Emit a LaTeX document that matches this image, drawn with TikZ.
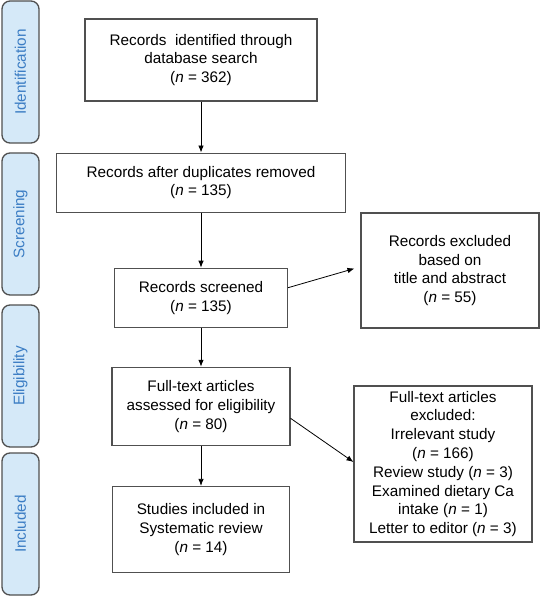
\documentclass[tikz,border=0pt]{standalone}
\usepackage{fontspec}
\setmainfont{Liberation Sans}
\usetikzlibrary{arrows.meta,positioning}
\definecolor{phasefill}{HTML}{D5E9F8}
\definecolor{phasetext}{HTML}{3B7DC4}
\definecolor{boxline}{HTML}{505050}

\begin{document}
\begin{tikzpicture}[
	x = 1pt, y = -1pt,
	every node/.style = {font = \fontsize{15.3}{18.8}\selectfont, align = center, inner sep = 0pt},
	box/.style = {draw = boxline, line width = 1.1pt},
	phase/.style = {draw = boxline, line width = 1.3pt, fill = phasefill, text = phasetext, rounded corners = 8pt, rotate = 90, minimum width = 142pt, minimum height = 37pt},
	arr/.style = {-{Latex[length = 7pt, width = 5.5pt]}, thick}
	]
	\useasboundingbox (0, 0) rectangle (540, 596);
	
	% phases on the left (rotated, so placed at coordinates)
	\node[phase] (phId) at (20.5, 72) {Identification};
	\node[phase] (phScr) at (20.5, 224) {Screening};
	\node[phase] (phElig) at (20.5, 376) {Eligibility};
	\node[phase] (phIncl) at (20.5, 524) {Included};
	
	% main column
	\node[box, minimum width = 232pt, minimum height = 82pt] (ident) at (201, 60) {Records\ \ identified through\\database search\\(\textit{n} = 362)};
	\node[box, minimum width = 289pt, minimum height = 59pt, below = 51pt of ident] (dedup) {Records after duplicates removed\\(\textit{n} = 135)};
	\node[box, minimum width = 173pt, minimum height = 59pt, below = 55pt of dedup] (screen) {Records screened\\(\textit{n} = 135)};
	\node[box, minimum width = 178pt, minimum height = 78pt, below = 39pt of screen] (full) {Full-text articles\\assessed for eligibility\\(\textit{n} = 80)};
	\node[box, minimum width = 177pt, minimum height = 86pt, below = 40pt of full] (incl) {Studies included in\\Systematic review\\(\textit{n} = 14)};
	
	% exclusions
	\node[box, minimum width = 178pt, minimum height = 115pt] (excl1) at (450, 270.5) {Records excluded\\based on\\title and abstract\\(\textit{n} = 55)};
	\node[box, minimum width = 178pt, minimum height = 156pt] (excl2) at (443, 464) {Full-text articles\\excluded:\\Irrelevant study\\(\textit{n} = 166)\\Review study (\textit{n} = 3)\\Examined dietary Ca\\intake (\textit{n} = 1)\\Letter to editor (\textit{n} = 3)};
	
	\draw[arr] (ident) -- (ident |- dedup.north);
	\draw[arr] (dedup) -- (screen);
	\draw[arr] (screen) -- (full);
	\draw[arr] (full) -- (incl);
	\draw[arr] ([yshift = 10pt]screen.east) -- ([xshift = -6pt, yshift = 2pt]excl1.west);
	\draw[arr] ([yshift = -12pt]full.east) -- ([yshift = 2pt]excl2.west);

\end{tikzpicture}
\end{document}
